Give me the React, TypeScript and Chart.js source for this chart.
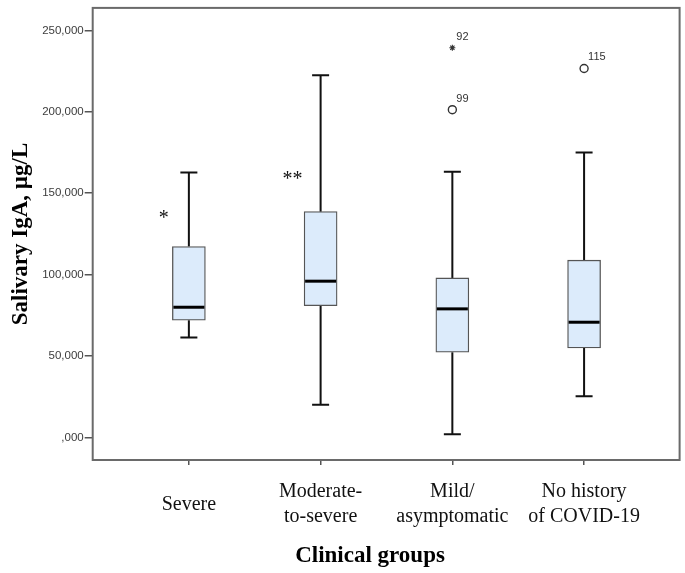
import React, { useEffect, useRef } from 'react';
import { Chart, registerables } from 'chart.js';

Chart.register(...registerables);

// ---- data ----
const groupLabels: string[][] = [
  ['Severe'],
  ['Moderate-', 'to-severe'],
  ['Mild/', 'asymptomatic'],
  ['No history', 'of COVID-19'],
];
const groupIndex = [0, 1, 2, 3];
const whiskerMin = [61400, 20200, 2000, 25300];
const quartile1 = [72000, 81000, 52400, 55000];
const medians = [80000, 96000, 79000, 70800];
const quartile3 = [117300, 138700, 98000, 108900];
const whiskerMax = [162800, 222500, 163200, 175000];

const outlierGroup = [2, 2, 3];
const outlierValue = [201300, 239300, 226600];
const outlierCase = ['99', '92', '115'];
const outlierExtreme = [false, true, false];

const sigGroup = [0, 1];
const sigText = ['*', '**'];
const sigValue = [136900, 160500];

const yTickValues = [0, 50000, 100000, 150000, 200000, 250000];
const yTickLabels = [',000', '50,000', '100,000', '150,000', '200,000', '250,000'];

const yTitle = 'Salivary IgA, µg/L';
const xTitle = 'Clinical groups';

export default function App() {
  const ref = useRef<HTMLCanvasElement>(null);

  useEffect(() => {
    if (!ref.current) return;

    const framePlugin = {
      id: 'frame',
      beforeDatasetsDraw(chart: any) {
        const { ctx, chartArea: a } = chart;
        ctx.save();
        ctx.strokeStyle = '#6a6a6a';
        ctx.lineWidth = 2;
        ctx.strokeRect(a.left, a.top, a.right - a.left, a.bottom - a.top);
        ctx.restore();
      },
    };

    const boxPartsPlugin = {
      id: 'boxParts',
      beforeDatasetsDraw(chart: any) {
        const { ctx } = chart;
        const x = chart.scales.x;
        const y = chart.scales.y;
        ctx.save();
        ctx.strokeStyle = '#111';
        ctx.lineWidth = 2;
        const cap = 17;
        groupIndex.forEach((i) => {
          const cx = x.getPixelForValue(i);
          const pMin = y.getPixelForValue(whiskerMin[i]);
          const pMax = y.getPixelForValue(whiskerMax[i]);
          const pQ1 = y.getPixelForValue(quartile1[i]);
          const pQ3 = y.getPixelForValue(quartile3[i]);
          ctx.beginPath();
          ctx.moveTo(cx, pQ3);
          ctx.lineTo(cx, pMax);
          ctx.moveTo(cx - cap / 2, pMax);
          ctx.lineTo(cx + cap / 2, pMax);
          ctx.moveTo(cx, pQ1);
          ctx.lineTo(cx, pMin);
          ctx.moveTo(cx - cap / 2, pMin);
          ctx.lineTo(cx + cap / 2, pMin);
          ctx.stroke();
        });
        ctx.restore();
      },
      afterDatasetsDraw(chart: any) {
        const { ctx } = chart;
        const x = chart.scales.x;
        const y = chart.scales.y;
        const meta = chart.getDatasetMeta(0);
        ctx.save();
        // medians
        ctx.strokeStyle = '#000';
        ctx.lineWidth = 3;
        groupIndex.forEach((i) => {
          const bar = meta.data[i];
          const w = bar.width;
          const cx = x.getPixelForValue(i);
          const pm = y.getPixelForValue(medians[i]);
          ctx.beginPath();
          ctx.moveTo(cx - w / 2 + 1, pm);
          ctx.lineTo(cx + w / 2 - 1, pm);
          ctx.stroke();
        });
        // outlier case numbers
        ctx.fillStyle = '#333';
        ctx.font = '11px "Liberation Sans", Arial, sans-serif';
        ctx.textAlign = 'left';
        ctx.textBaseline = 'alphabetic';
        outlierGroup.forEach((g, k) => {
          const px = x.getPixelForValue(g);
          const py = y.getPixelForValue(outlierValue[k]);
          ctx.fillText(outlierCase[k], px + 4, py - 8);
        });
        // significance marks
        const sigDx = [-25, -28];
        ctx.fillStyle = '#111';
        ctx.font = '20px "Liberation Serif", "Times New Roman", serif';
        ctx.textAlign = 'center';
        sigGroup.forEach((g, k) => {
          const px = x.getPixelForValue(g) + sigDx[k];
          const py = y.getPixelForValue(sigValue[k]);
          ctx.fillText(sigText[k], px, py + 9);
        });
        // x axis title
        ctx.fillStyle = '#000';
        ctx.font = 'bold 23px "Liberation Serif", "Times New Roman", serif';
        ctx.textAlign = 'center';
        ctx.fillText(xTitle, 370, 562);
        ctx.restore();
      },
    };

    const chart = new Chart(ref.current, {
      type: 'bar',
      data: {
        datasets: [
          {
            type: 'bar',
            data: groupIndex.map((i) => ({ x: i, y: [quartile1[i], quartile3[i]] })) as any,
            backgroundColor: '#dcebfb',
            borderColor: '#555',
            borderWidth: 1.3,
            borderSkipped: false,
            barThickness: 33,
          } as any,
          {
            type: 'scatter',
            data: outlierGroup.map((g, k) => ({ x: g, y: outlierValue[k] })),
            pointStyle: outlierExtreme.map((e) => (e ? 'star' : 'circle')),
            pointRadius: outlierExtreme.map((e) => (e ? 3 : 4)),
            pointBorderColor: '#333',
            pointBackgroundColor: '#fff',
            pointBorderWidth: outlierExtreme.map((e) => (e ? 1.1 : 1.4)),
            showLine: false,
          } as any,
        ],
      },
      options: {
        responsive: false,
        animation: false,
        events: [],
        layout: { padding: { top: 3, right: 4.3, left: 0, bottom: 0 } },
        plugins: {
          legend: { display: false },
          tooltip: { enabled: false },
        },
        scales: {
          x: {
            type: 'linear',
            min: -0.73,
            max: 3.725,
            offset: false,
            afterBuildTicks: (axis: any) => {
              axis.ticks = groupIndex.map((v) => ({ value: v }));
            },
            afterFit: (axis: any) => {
              axis.height = 113;
            },
            border: { display: false },
            grid: {
              offset: false,
              drawOnChartArea: false,
              drawTicks: true,
              tickLength: 5,
              color: '#555',
              lineWidth: 1.5,
            },
            ticks: {
              autoSkip: false,
              maxRotation: 0,
              minRotation: 0,
              padding: 27,
              crossAlign: 'center',
              color: '#111',
              font: { family: '"Liberation Serif", "Times New Roman", serif', size: 20, lineHeight: 1.25 },
              callback: (v: any) => groupLabels[Math.round(Number(v))],
            },
          },
          y: {
            type: 'linear',
            min: -13800,
            max: 263800,
            afterBuildTicks: (axis: any) => {
              axis.ticks = yTickValues.map((v) => ({ value: v }));
            },
            afterFit: (axis: any) => {
              axis.width = 92.7;
            },
            border: { display: false },
            grid: {
              drawOnChartArea: false,
              drawTicks: true,
              tickLength: 8,
              color: '#555',
              lineWidth: 1.5,
            },
            ticks: {
              padding: 1,
              color: '#3c3c3c',
              font: { family: '"Liberation Sans", Arial, sans-serif', size: 11.5 },
              callback: (v: any) => {
                const idx = yTickValues.indexOf(Number(v));
                return idx >= 0 ? yTickLabels[idx] : '';
              },
            },
            title: {
              display: true,
              text: yTitle,
              color: '#000',
              padding: { top: 7, bottom: 0 },
              font: { family: '"Liberation Serif", "Times New Roman", serif', size: 23, weight: 'bold', lineHeight: 1.2 },
            },
          },
        },
      } as any,
      plugins: [framePlugin, boxPartsPlugin],
    });

    return () => chart.destroy();
  }, []);

  return (
    <div style={{ position: 'fixed', left: 0, top: 0, width: 685, height: 573, background: '#fff' }}>
      <canvas ref={ref} width={685} height={573} style={{ display: 'block' }} />
    </div>
  );
}
